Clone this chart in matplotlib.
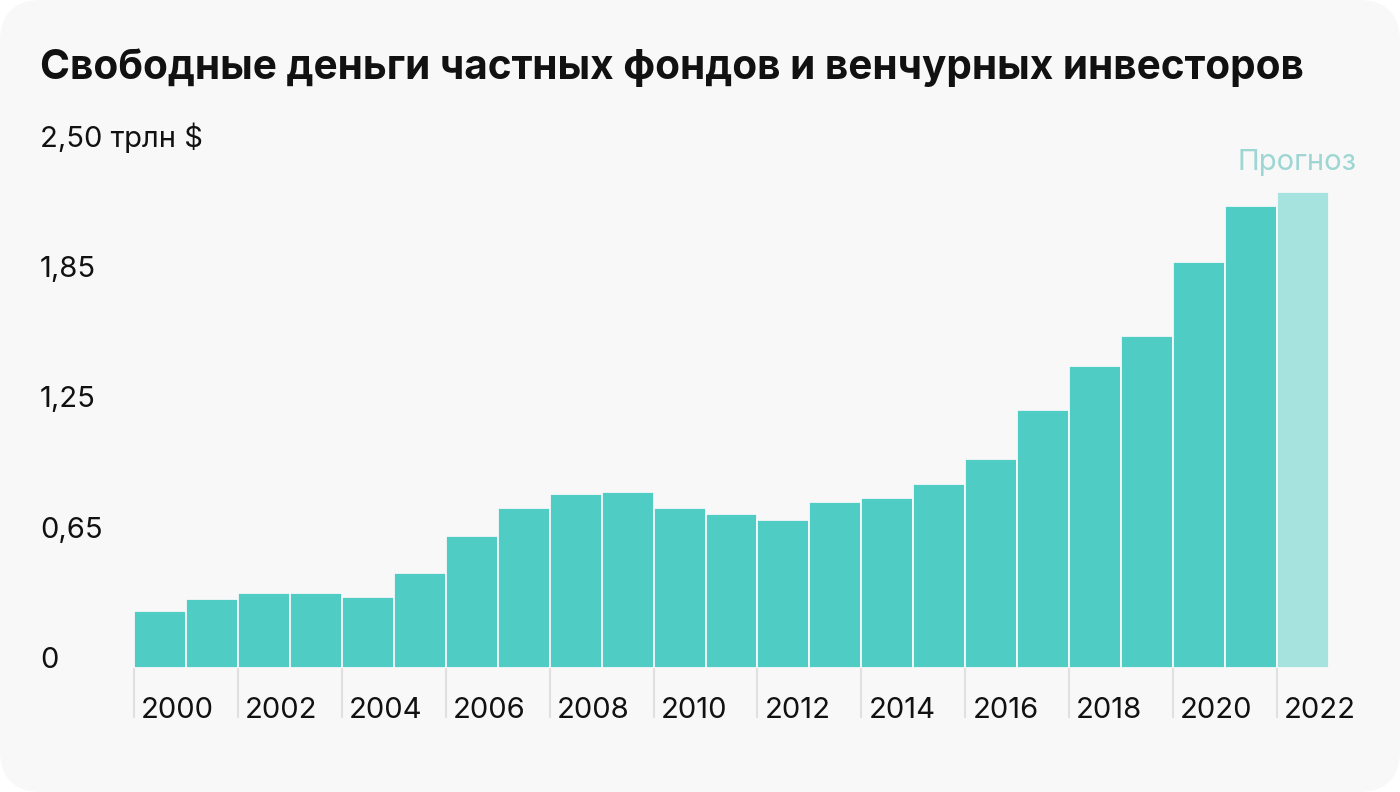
import matplotlib
matplotlib.use("Agg")
import matplotlib.pyplot as plt
import matplotlib.transforms as mtransforms
from matplotlib.patches import FancyBboxPatch

# data (trillion $)
years = list(range(2000, 2023))
values = [0.274, 0.332, 0.361, 0.361, 0.341, 0.457, 0.631, 0.766, 0.833, 0.845,
          0.766, 0.739, 0.708, 0.795, 0.814, 0.881, 1.005, 1.236, 1.447, 1.591,
          1.947, 2.216, 2.284]
forecast_year = 2022
ytick_vals = [0, 0.625, 1.25, 1.875, 2.5]
ytick_labels = ["0", "0,65", "1,25", "1,85", "2,50 трлн $"]

title = "Свободные деньги частных фондов и венчурных инвесторов"

plt.rcParams['font.family'] = ['Inter', 'DejaVu Sans']

W, H = 1400, 792
fig = plt.figure(figsize=(W / 100, H / 100), dpi=100, facecolor="white")

bg = FancyBboxPatch((0, 0), 1, 1, boxstyle="round,pad=0,rounding_size=0.03",
                    transform=fig.transFigure, facecolor="#f8f8f8",
                    edgecolor="none", mutation_aspect=W / H, zorder=-10)
fig.patches.append(bg)

ax = fig.add_axes([134 / W, (H - 668) / H, 1195 / W, 521 / H])
ax.set_facecolor("none")
ax.set_xlim(-0.5, len(years) - 0.5)
ax.set_ylim(0, 2.5)
for s in ax.spines.values():
    s.set_visible(False)
ax.set_xticks([])
ax.set_yticks([])

colors = ["#a6e3df" if y == forecast_year else "#4fcdc4" for y in years]
ax.bar(range(len(years)), values, width=1.0, color=colors,
       edgecolor="#f8f8f8", linewidth=1.3)

# tick lines and year labels below the bars
off = mtransforms.offset_copy(ax.transData, fig=fig, x=7, y=0, units="dots")
for i, y in enumerate(years):
    if y % 2 == 0:
        ax.vlines(i - 0.5, -50 / 208, 0, color="#e0e0e0", linewidth=1.5,
                  clip_on=False)
        ax.text(i - 0.5, -42 / 208, str(y), transform=off, ha="left",
                va="center", fontsize=21, color="#111111")

# y labels
ylab_tr = mtransforms.blended_transform_factory(fig.transFigure, ax.transData)
for v, lab in zip(ytick_vals, ytick_labels):
    ax.text(40 / W, v, lab, transform=ylab_tr, ha="left", va="baseline",
            fontsize=21, color="#111111")

ax.text(1357 / W, 1 - 162 / H, "Прогноз", transform=fig.transFigure,
        ha="right", va="center", fontsize=21, color="#9dd6d2")

fig.text(40 / W, 1 - 68 / H, title, ha="left", va="center", fontsize=29.2,
         fontweight="bold", color="#111111")

fig.savefig("out.png", dpi=100, facecolor="white")
